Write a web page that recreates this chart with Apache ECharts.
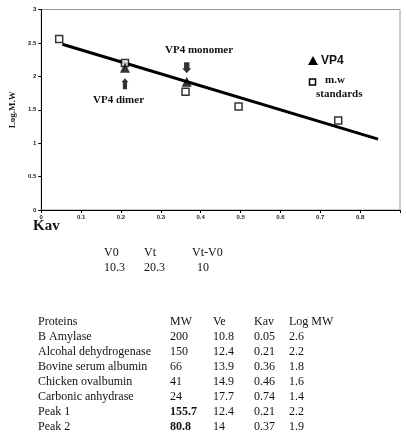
<!DOCTYPE html>
<html><head><meta charset="utf-8">
<script src="https://cdn.jsdelivr.net/npm/echarts@6/dist/echarts.min.js"></script>
<style>html,body{margin:0;padding:0;background:#fff}#c{width:406px;height:438px}</style>
</head><body><div id="c"></div>
<script>
// Data
const stdKav = [0.045, 0.21, 0.362, 0.495, 0.745];
const stdLogMW = [2.56, 2.2, 1.77, 1.55, 1.34];
const vp4Kav = [0.21, 0.365];
const vp4LogMW = [2.13, 1.92];
const fitKav = [0.053, 0.845];
const fitLogMW = [2.48, 1.06];
const xTicks = [0, 0.1, 0.2, 0.3, 0.4, 0.5, 0.6, 0.7, 0.8];
const yTicks = [0, 0.5, 1, 1.5, 2, 2.5, 3];
const volHead = ['V0', 'Vt', 'Vt-V0'];
const volVals = ['10.3', '20.3', '10'];
const tableHead = ['Proteins', 'MW', 'Ve', 'Kav', 'Log MW'];
const proteins = ['B Amylase', 'Alcohal dehydrogenase', 'Bovine serum albumin', 'Chicken ovalbumin', 'Carbonic anhydrase', 'Peak 1', 'Peak 2'];
const mw = ['200', '150', '66', '41', '24', '155.7', '80.8'];
const ve = ['10.8', '12.4', '13.9', '14.9', '17.7', '12.4', '14'];
const kav = ['0.05', '0.21', '0.36', '0.46', '0.74', '0.21', '0.37'];
const logmw = ['2.6', '2.2', '1.8', '1.6', '1.4', '2.2', '1.9'];
const boldMW = [false, false, false, false, false, true, true];

const serif = '"Liberation Serif","DejaVu Serif",serif';
const sans = '"Liberation Sans",Arial,sans-serif';
const chart = echarts.init(document.getElementById('c'), null, {renderer: 'canvas'});

const downArrow = 'path://M2,0 L8,0 L8,6 L10,6 L5,11 L0,6 L2,6 Z';
const upArrow = 'path://M5,0 L10,4 L8,4 L8,11 L2,11 L2,4 L0,4 Z';

const graphics = [];
function txt(x, y, s, font) {
  graphics.push({type: 'text', x: x, y: y, style: {text: s, font: font, fill: '#111', textVerticalAlign: 'middle'}});
}
// annotations
txt(165, 50, 'VP4 monomer', 'bold 11px ' + serif);
txt(93, 100, 'VP4 dimer', 'bold 11px ' + serif);
// legend
graphics.push({type: 'polygon', shape: {points: [[313, 56], [318, 65], [308, 65]]}, style: {fill: '#000'}});
txt(321, 61, 'VP4', 'bold 12px ' + sans);
graphics.push({type: 'rect', shape: {x: 309.5, y: 79, width: 6, height: 6}, style: {fill: '#fff', stroke: '#000', lineWidth: 1.5}});
txt(325, 80, 'm.w', 'bold 11px ' + serif);
txt(316, 94, 'standards', 'bold 11px ' + serif);
// Kav axis title
txt(33, 226, 'Kav', 'bold 15px ' + serif);
// volumes
const volX = [104, 144, 192];
volHead.forEach((s, i) => txt(volX[i], 253, s, '12px ' + serif));
const volVX = [104, 144, 197];
volVals.forEach((s, i) => txt(volVX[i], 268, s, '12px ' + serif));
// table
const colX = [38, 170, 213, 254, 289];
tableHead.forEach((s, i) => txt(colX[i], 322, s, '12px ' + serif));
proteins.forEach((p, r) => {
  const y = 336.5 + r * 15;
  txt(colX[0], y, p, '12px ' + serif);
  txt(colX[1], y, mw[r], (boldMW[r] ? 'bold ' : '') + '12px ' + serif);
  txt(colX[2], y, ve[r], '12px ' + serif);
  txt(colX[3], y, kav[r], '12px ' + serif);
  txt(colX[4], y, logmw[r], '12px ' + serif);
});

chart.setOption({
  animation: false,
  backgroundColor: '#fff',
  grid: {left: 37, right: 6, top: 9.5, bottom: 228, show: true, borderColor: '#999', borderWidth: 1},
  xAxis: {
    type: 'value', min: 0, max: 0.9, interval: 0.1,
    axisLine: {show: true, lineStyle: {color: '#000', width: 1}},
    axisTick: {show: true, length: 3, lineStyle: {color: '#000'}},
    splitLine: {show: false},
    axisLabel: {fontSize: 6, fontWeight: 'bold', fontFamily: sans, color: '#222', margin: 4,
      showMinLabel: true, hideOverlap: false,
      formatter: v => { const r = Math.round(v * 10) / 10; return xTicks.indexOf(r) >= 0 ? String(r) : ''; }}
  },
  yAxis: {
    type: 'value', min: 0, max: 3, interval: 0.5,
    name: 'Log.M.W', nameLocation: 'middle', nameGap: 24,
    nameTextStyle: {fontFamily: serif, fontWeight: 'bold', fontSize: 9, color: '#222'},
    axisLine: {show: true, lineStyle: {color: '#000', width: 1}},
    axisTick: {show: true, length: 3, lineStyle: {color: '#000'}},
    splitLine: {show: false},
    axisLabel: {fontSize: 6, fontWeight: 'bold', fontFamily: sans, color: '#222', margin: 5,
      showMinLabel: true,
      formatter: v => yTicks.indexOf(v) >= 0 ? String(v) : ''}
  },
  series: [
    {type: 'line', data: fitKav.map((x, i) => [x, fitLogMW[i]]), symbol: 'none',
      lineStyle: {color: '#000', width: 3}, z: 2},
    {type: 'scatter', data: stdKav.map((x, i) => [x, stdLogMW[i]]), symbol: 'rect', symbolSize: 7,
      itemStyle: {color: '#fff', borderColor: '#000', borderWidth: 1.5}, z: 3},
    {type: 'scatter', data: vp4Kav.map((x, i) => [x, vp4LogMW[i]]), symbol: 'triangle', symbolSize: 10,
      itemStyle: {color: '#000'}, z: 4},
    {type: 'scatter', data: [[vp4Kav[1], 2.13]], symbol: downArrow, symbolSize: [9, 11],
      itemStyle: {color: '#000'}, z: 4},
    {type: 'scatter', data: [[vp4Kav[0], 1.89]], symbol: upArrow, symbolSize: [7, 11],
      itemStyle: {color: '#000'}, z: 4}
  ],
  graphic: graphics
});
</script></body></html>
